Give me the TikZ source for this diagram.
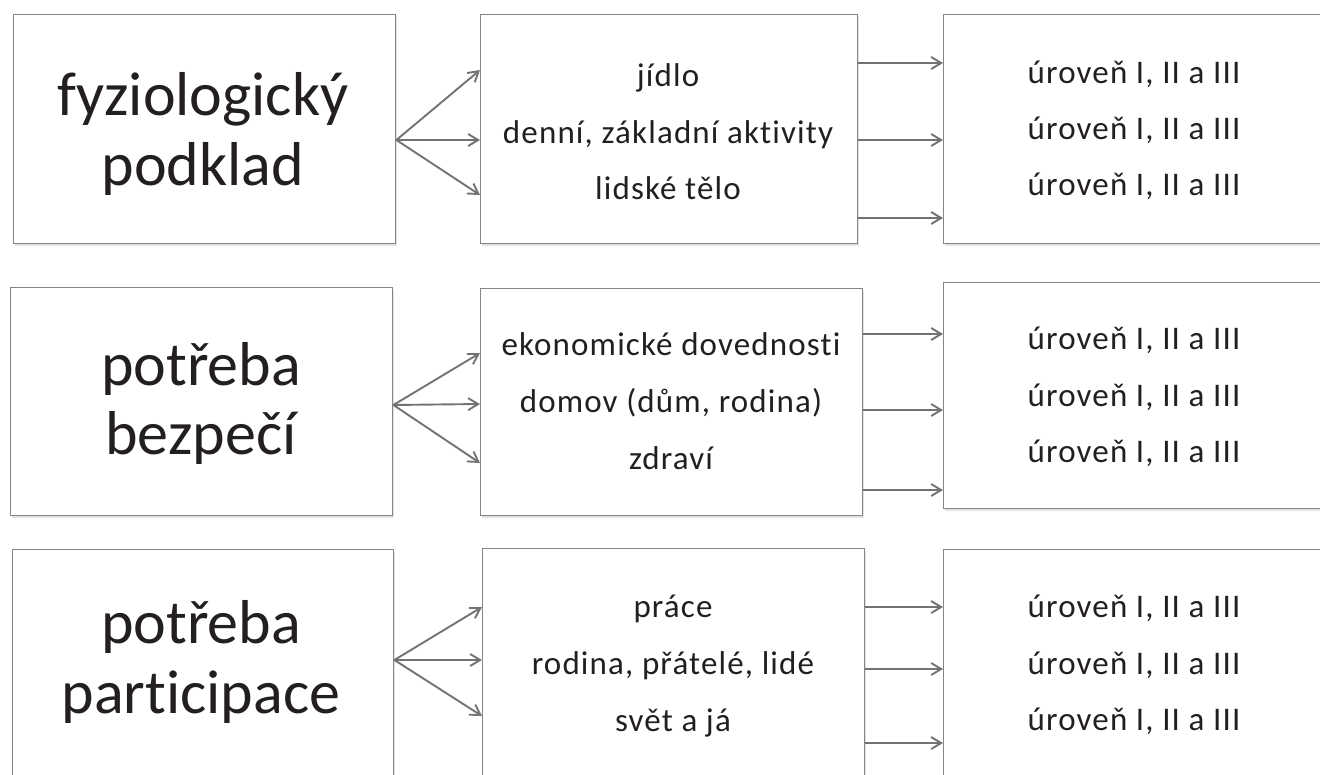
\documentclass[tikz,border=0pt]{standalone}
\usepackage{fontspec}
\setmainfont{Carlito}[RawFeature=-liga]
\newfontfamily\smallf{Carlito}[LetterSpace=3.5,RawFeature=-liga]
\usetikzlibrary{arrows.meta,calc,shadows}
\definecolor{txt}{HTML}{231F20}
\definecolor{edge}{HTML}{858585}
\definecolor{arr}{HTML}{737373}
\begin{document}
\begin{tikzpicture}[x=1pt,y=-1pt,
  box/.style={draw=edge, line width=1.4pt, fill=white, inner sep=0pt, anchor=north west,
    drop shadow={opacity=0.22, shadow xshift=1pt, shadow yshift=-2.5pt}},
  big/.style={anchor=base, text=txt, font=\fontsize{62}{70}\selectfont, inner sep=0pt},
  small/.style={anchor=base, text=txt, font=\smallf\fontsize{33}{40}\selectfont, inner sep=0pt},
  conn/.style={draw=arr, line width=1.9pt, -{Straight Barb[length=10pt,width=12pt]}}]
\useasboundingbox (0,0) rectangle (1320,774);

% boxes
\node[box, minimum width=382, minimum height=229] (L1) at (13,14) {};
\node[box, minimum width=377, minimum height=229] (M1) at (480,14) {};
\node[box, minimum width=400, minimum height=229] (R1) at (943,14) {};
\node[box, minimum width=382, minimum height=228] (L2) at (10,287) {};
\node[box, minimum width=382, minimum height=227] (M2) at (480,288) {};
\node[box, minimum width=400, minimum height=226] (R2) at (943,282) {};
\node[box, minimum width=381, minimum height=260] (L3) at (12,549) {};
\node[box, minimum width=382, minimum height=260] (M3) at (482,548) {};
\node[box, minimum width=400, minimum height=260] (R3) at (943,549) {};

% left texts
\node[big] (t11) at (203,115) {fyziologický};
\node[big] (t12) at (203,185) {podklad};
\node[big] (t21) at (201,385) {potřeba};
\node[big] (t22) at (201,454) {bezpečí};
\node[big] (t31) at (201,643) {potřeba};
\node[big] (t32) at (201,713) {participace};

% middle texts
\node[small] (m11) at (668,86) {jídlo};
\node[small] (m12) at (668,143) {denní, základní aktivity};
\node[small] (m13) at (668,199) {lidské tělo};
\node[small] (m21) at (671,355) {ekonomické dovednosti};
\node[small] (m22) at (671,412) {domov (dům, rodina)};
\node[small] (m23) at (671,469) {zdraví};
\node[small] (m31) at (673,617) {práce};
\node[small] (m32) at (673,674) {rodina, přátelé, lidé};
\node[small] (m33) at (673,731) {svět a já};

% right texts
\node[small] (r11) at (1134,83) {úroveň I, II a III};
\node[small] (r12) at (1134,139) {úroveň I, II a III};
\node[small] (r13) at (1134,195) {úroveň I, II a III};
\node[small] (r21) at (1134,349) {úroveň I, II a III};
\node[small] (r22) at (1134,406) {úroveň I, II a III};
\node[small] (r23) at (1134,462) {úroveň I, II a III};
\node[small] (r31) at (1134,617) {úroveň I, II a III};
\node[small] (r32) at (1134,674) {úroveň I, II a III};
\node[small] (r33) at (1134,730) {úroveň I, II a III};

% fan arrows row 1
\draw[conn] ([yshift=-126pt]L1.north east) -- ([yshift=-56pt]M1.north west);
\draw[conn] ([yshift=-126pt]L1.north east) -- ([yshift=-126pt]M1.north west);
\draw[conn] ([yshift=-126pt]L1.north east) -- ([yshift=-181pt]M1.north west);
% fan arrows row 2
\draw[conn] ([yshift=-118pt]L2.north east) -- ([yshift=-65pt]M2.north west);
\draw[conn] ([yshift=-118pt]L2.north east) -- ([yshift=-116pt]M2.north west);
\draw[conn] ([yshift=-118pt]L2.north east) -- ([yshift=-175pt]M2.north west);
% fan arrows row 3
\draw[conn] ([yshift=-111pt]L3.north east) -- ([yshift=-59pt]M3.north west);
\draw[conn] ([yshift=-111pt]L3.north east) -- ([yshift=-112pt]M3.north west);
\draw[conn] ([yshift=-111pt]L3.north east) -- ([yshift=-168pt]M3.north west);

% right arrows row 1
\draw[conn] ([yshift=-49pt]M1.north east) -- ([yshift=-49pt]R1.north west);
\draw[conn] ([yshift=-126pt]M1.north east) -- ([yshift=-126pt]R1.north west);
\draw[conn] ([yshift=-204pt]M1.north east) -- ([yshift=-204pt]R1.north west);
% right arrows row 2
\draw[conn] ([yshift=-46pt]M2.north east) -- ([yshift=-52pt]R2.north west);
\draw[conn] ([yshift=-122pt]M2.north east) -- ([yshift=-128pt]R2.north west);
\draw[conn] ([yshift=-202pt]M2.north east) -- ([yshift=-208pt]R2.north west);
% right arrows row 3
\draw[conn] ([yshift=-59pt]M3.north east) -- ([yshift=-58pt]R3.north west);
\draw[conn] ([yshift=-121pt]M3.north east) -- ([yshift=-120pt]R3.north west);
\draw[conn] ([yshift=-195pt]M3.north east) -- ([yshift=-194pt]R3.north west);
\end{tikzpicture}
\end{document}
